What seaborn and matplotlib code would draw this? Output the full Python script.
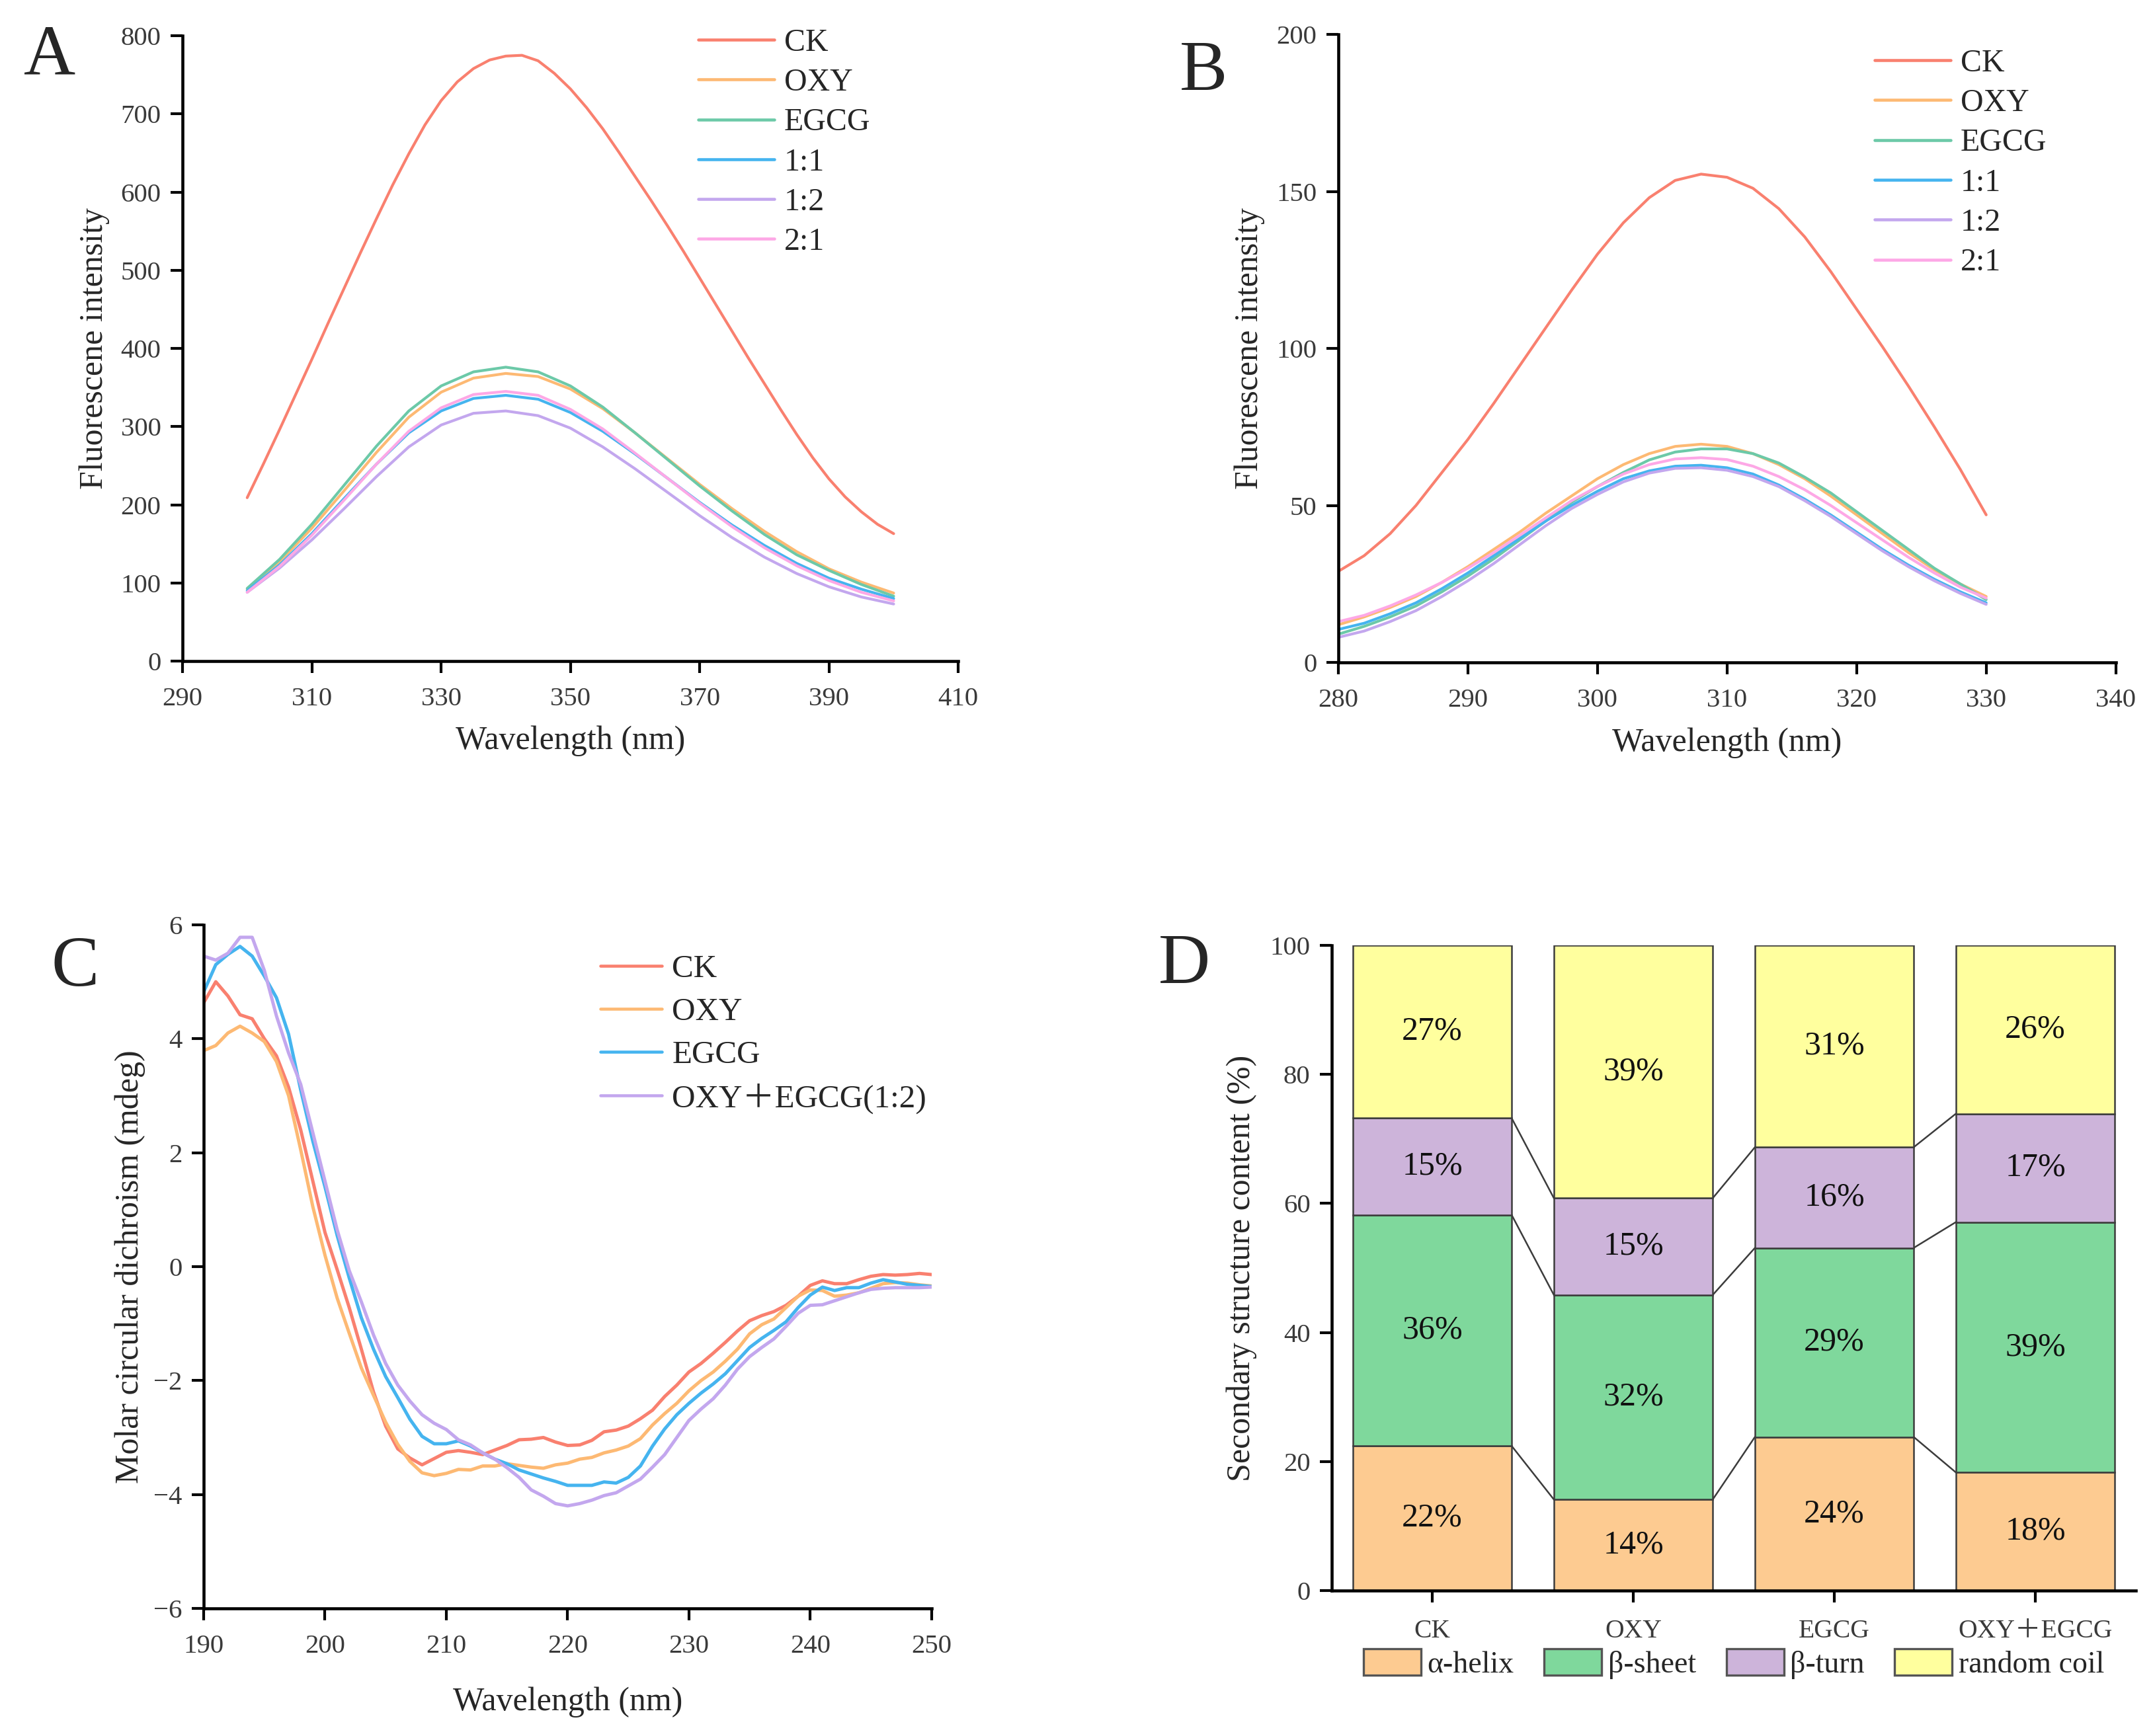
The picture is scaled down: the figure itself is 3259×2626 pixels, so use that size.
import numpy as np
import pandas as pd
import seaborn as sns
import matplotlib.pyplot as plt
from matplotlib.patches import Patch

sns.set_style('ticks')
plt.rcParams['font.family'] = ['Liberation Serif', 'Noto Sans CJK SC']

# ---- data: panel A (fluorescence, 300-400 nm) ----
wl_ck_a = [300, 302.5, 305, 307.5, 310, 312.5, 315, 317.5, 320, 322.5, 325,
           327.5, 330, 332.5, 335, 337.5, 340, 342.5, 345, 347.5, 350,
           352.5, 355, 357.5, 360, 362.5, 365, 367.5, 370, 372.5, 375,
           377.5, 380, 382.5, 385, 387.5, 390, 392.5, 395, 397.5, 400]
ck_a = [209, 252, 296, 341, 386, 432, 477, 522, 566, 609, 649,
        686, 717, 741, 758, 769, 774, 775, 768, 752, 732,
        708, 681, 651, 620, 589, 557, 524, 490, 456, 422,
        388, 355, 322, 290, 260, 233, 210, 191, 175, 163]
wl_a = [300, 305, 310, 315, 320, 325, 330, 335, 340, 345, 350,
        355, 360, 365, 370, 375, 380, 385, 390, 395, 400]
oxy_a = [92, 127, 170, 218, 267, 312, 344, 362, 368, 364, 348,
         323, 292, 259, 226, 195, 166, 140, 118, 101, 87]
egcg_a = [93, 130, 175, 225, 275, 320, 352, 370, 376, 370, 352,
          325, 292, 258, 224, 192, 162, 136, 116, 98, 83]
r11_a = [90, 123, 163, 208, 252, 292, 320, 336, 340, 335, 318,
         294, 265, 234, 203, 174, 148, 125, 106, 92, 80]
r12_a = [88, 119, 155, 195, 236, 274, 302, 317, 320, 314, 298,
         274, 246, 216, 186, 158, 133, 112, 95, 82, 73]
r21_a = [88, 121, 161, 206, 252, 294, 324, 341, 345, 340, 322,
         297, 266, 234, 202, 172, 145, 122, 103, 88, 77]

# ---- data: panel B (fluorescence, 280-330 nm) ----
wl_b = [280, 282, 284, 286, 288, 290, 292, 294, 296, 298, 300, 302, 304,
        306, 308, 310, 312, 314, 316, 318, 320, 322, 324, 326, 328, 330]
ck_b = [29, 34, 41, 50, 60.5, 71, 82.5, 94.5, 106.5, 118.5, 130, 140, 148,
        153.5, 155.5, 154.5, 151, 144.5, 135.5, 124.5, 112.5, 100.5, 88, 75, 61.5, 47]
oxy_b = [12, 14.5, 17.5, 21, 25.5, 30.5, 36, 41.5, 47.5, 53, 58.5, 63, 66.5,
         68.8, 69.5, 68.8, 66.5, 63, 58.5, 53, 47, 41, 35, 29.5, 25, 21]
egcg_b = [9, 11.5, 14.5, 18, 22.5, 27.5, 33, 39, 45, 51, 56, 60.5, 64.5,
          67, 68, 68, 66.5, 63.5, 59, 54, 48, 42, 36, 30, 25, 20]
r11_b = [10.5, 12.5, 15.5, 19, 23.5, 28.5, 34, 39.5, 45, 50, 54.5, 58.5, 61,
         62.5, 62.8, 62, 60, 56.5, 52, 47, 41.5, 36, 31, 26.5, 22.5, 19]
r12_b = [8, 10, 13, 16.5, 21, 26, 31.5, 37.5, 43.5, 49, 53.5, 57.5, 60.3,
         61.8, 62, 61.2, 59.2, 56, 51.5, 46.5, 41, 35.5, 30.5, 26, 22, 18.5]
r21_b = [13, 15, 18, 21.5, 25.5, 30, 35, 40.5, 46, 51.5, 56, 60, 63,
         64.8, 65.2, 64.6, 62.5, 59.2, 55, 50, 44.5, 39, 33.5, 28.5, 24, 20.5]

# ---- data: panel C (circular dichroism, 190-250 nm) ----
wl_c = list(range(190, 251))
ck_c = [4.63, 5.0, 4.75, 4.42, 4.35, 4.0, 3.7, 3.15, 2.4, 1.5,
        0.6, -0.05, -0.72, -1.45, -2.2, -2.8, -3.2, -3.36, -3.48, -3.37,
        -3.26, -3.23, -3.26, -3.30, -3.22, -3.14, -3.04, -3.03, -3.0, -3.08,
        -3.14, -3.13, -3.05, -2.9, -2.87, -2.8, -2.67, -2.52, -2.28, -2.08,
        -1.85, -1.7, -1.52, -1.33, -1.13, -0.95, -0.86, -0.79, -0.68, -0.52,
        -0.33, -0.25, -0.3, -0.3, -0.23, -0.17, -0.14, -0.15, -0.14, -0.12,
        -0.14]
oxy_c = [3.79, 3.88, 4.1, 4.22, 4.1, 3.95, 3.6, 3.0, 2.05, 1.05,
         0.2, -0.55, -1.17, -1.78, -2.26, -2.73, -3.12, -3.42, -3.62, -3.67,
         -3.63, -3.56, -3.57, -3.5, -3.5, -3.46, -3.49, -3.52, -3.54, -3.48,
         -3.45, -3.38, -3.35, -3.27, -3.22, -3.15, -3.02, -2.78, -2.58, -2.4,
         -2.18, -2.0, -1.85, -1.66, -1.45, -1.18, -1.02, -0.92, -0.72, -0.52,
         -0.41, -0.42, -0.52, -0.5, -0.46, -0.38, -0.3, -0.28, -0.29, -0.32,
         -0.34]
egcg_c = [4.82, 5.3, 5.48, 5.62, 5.45, 5.1, 4.72, 4.08, 3.1, 2.2,
          1.4, 0.55, -0.2, -0.9, -1.45, -1.93, -2.3, -2.68, -2.98, -3.11,
          -3.11, -3.06, -3.15, -3.27, -3.38, -3.46, -3.57, -3.64, -3.71, -3.77,
          -3.84, -3.84, -3.84, -3.78, -3.8, -3.7, -3.5, -3.15, -2.85, -2.6,
          -2.4, -2.22, -2.06, -1.88, -1.65, -1.42, -1.26, -1.12, -0.97, -0.72,
          -0.5, -0.36, -0.42, -0.37, -0.37, -0.29, -0.23, -0.27, -0.31, -0.33,
          -0.35]
mix_c = [5.45, 5.38, 5.5, 5.78, 5.78, 5.2, 4.4, 3.75, 3.2, 2.35,
         1.5, 0.65, -0.07, -0.62, -1.2, -1.7, -2.08, -2.36, -2.6, -2.75,
         -2.86, -3.04, -3.13, -3.27, -3.38, -3.53, -3.7, -3.92, -4.03, -4.16,
         -4.2, -4.16, -4.1, -4.02, -3.97, -3.85, -3.73, -3.52, -3.3, -3.0,
         -2.7, -2.5, -2.32, -2.08, -1.8, -1.58, -1.42, -1.27, -1.05, -0.82,
         -0.68, -0.67, -0.6, -0.53, -0.46, -0.4, -0.38, -0.37, -0.37, -0.37,
         -0.36]

# ---- data: panel D (secondary structure, %) ----
groups = ['CK', 'OXY', 'EGCG', 'OXY＋EGCG']
structures = ['α-helix', 'β-sheet', 'β-turn', 'random coil']
alpha_helix = [22.4, 14.1, 23.8, 18.3]
beta_sheet = [35.8, 31.7, 29.3, 38.8]
beta_turn = [15.0, 15.0, 15.6, 16.8]
random_coil = [26.8, 39.2, 31.3, 26.1]

# colours
c_ck, c_oxy, c_egcg = '#F9806F', '#FDB973', '#6CC9A8'
c_11, c_12, c_21 = '#45B4EF', '#C3A7EE', '#FDA8E6'
bar_colors = ['#FDCB91', '#7FD89C', '#CDB4DA', '#FFFF9E']

tick_color = '#3a3a3a'


def style_axes(ax):
    sns.despine(ax=ax)
    for s in ['left', 'bottom']:
        ax.spines[s].set_linewidth(1.1)
        ax.spines[s].set_color('black')
    ax.tick_params(direction='out', length=4.3, width=1.0, colors='black',
                   labelcolor=tick_color, labelsize=9.8)
    ax.tick_params(axis='x', pad=5)
    ax.tick_params(axis='y', pad=3.5)


def line_panel(ax, xs, series, names, colors, lw):
    df = pd.concat([pd.DataFrame({'wl': x, 'val': v, 'sample': n})
                    for x, v, n in zip(xs, series, names)], ignore_index=True)
    sns.lineplot(data=df, x='wl', y='val', hue='sample', hue_order=names,
                 palette=dict(zip(names, colors)), linewidth=lw,
                 legend=False, ax=ax)
    handles = [plt.Line2D([], [], color=c, lw=1.1) for c in colors]
    return handles


fig = plt.figure(figsize=(3259 / 300, 2626 / 300), dpi=300)
lab_fs = 12

# Panel A
axA = fig.add_axes([0.0847, 0.6192, 0.36, 0.3602])
names6 = ['CK', 'OXY', 'EGCG', '1:1', '1:2', '2:1']
h = line_panel(axA, [wl_ck_a] + [wl_a] * 5,
               [ck_a, oxy_a, egcg_a, r11_a, r12_a, r21_a], names6,
               [c_ck, c_oxy, c_egcg, c_11, c_12, c_21], 1.0)
axA.set_xlim(290, 410)
axA.set_ylim(0, 800)
axA.set_xticks(range(290, 411, 20))
axA.set_yticks(range(0, 801, 100))
style_axes(axA)
axA.set_xlabel('Wavelength (nm)', fontsize=lab_fs)
axA.set_ylabel('Fluorescene intensity', fontsize=lab_fs)
axA.xaxis.set_label_coords(0.5, -0.103)
axA.yaxis.set_label_coords(-0.094, 0.5)
axA.legend(h, names6, loc='upper left', bbox_to_anchor=(0.665, 1.012),
           frameon=False, fontsize=11.5, handlelength=2.4, handletextpad=0.3,
           labelspacing=0.34, borderaxespad=0, borderpad=0)

# Panel B
axB = fig.add_axes([0.621, 0.6184, 0.3608, 0.3618])
h = line_panel(axB, [wl_b] * 6, [ck_b, oxy_b, egcg_b, r11_b, r12_b, r21_b],
               names6, [c_ck, c_oxy, c_egcg, c_11, c_12, c_21], 1.0)
axB.set_xlim(280, 340)
axB.set_ylim(0, 200)
axB.set_xticks(range(280, 341, 10))
axB.set_yticks(range(0, 201, 50))
style_axes(axB)
axB.set_xlabel('Wavelength (nm)', fontsize=lab_fs)
axB.set_ylabel('Fluorescene intensity', fontsize=lab_fs)
axB.xaxis.set_label_coords(0.5, -0.104)
axB.yaxis.set_label_coords(-0.094, 0.5)
axB.legend(h, names6, loc='upper left', bbox_to_anchor=(0.69, 0.977),
           frameon=False, fontsize=11.5, handlelength=2.4, handletextpad=0.3,
           labelspacing=0.34, borderaxespad=0, borderpad=0)

# Panel C
axC = fig.add_axes([0.0945, 0.0735, 0.3378, 0.3938])
names4 = ['CK', 'OXY', 'EGCG', 'OXY＋EGCG(1:2)']
h = line_panel(axC, [wl_c] * 4, [ck_c, oxy_c, egcg_c, mix_c], names4,
               [c_ck, c_oxy, c_11, c_12], 1.2)
axC.set_xlim(190, 250)
axC.set_ylim(-6, 6)
axC.set_xticks(range(190, 251, 10))
axC.set_yticks(range(-6, 7, 2))
style_axes(axC)
axC.set_xlabel('Wavelength (nm)', fontsize=lab_fs)
axC.set_ylabel('Molar circular dichroism (mdeg)', fontsize=lab_fs)
axC.xaxis.set_label_coords(0.5, -0.115)
axC.yaxis.set_label_coords(-0.080, 0.5)
axC.legend(h, names4, loc='upper left', bbox_to_anchor=(0.545, 0.957),
           frameon=False, fontsize=11.8, handlelength=1.9, handletextpad=0.3,
           labelspacing=0.42, borderaxespad=0, borderpad=0)

# Panel D
axD = fig.add_axes([0.618, 0.0838, 0.3731, 0.3717])
layers = [alpha_helix, beta_sheet, beta_turn, random_coil]
width = 0.79
xpos = np.arange(len(groups))
bottom = np.zeros(len(groups))
levels = []
for vals, col in zip(layers, bar_colors):
    vals = np.array(vals)
    axD.bar(xpos, vals, width=width, bottom=bottom, color=col,
            edgecolor='#3c3c3c', linewidth=0.6, zorder=2)
    for i, v in enumerate(vals):
        axD.text(xpos[i], bottom[i] + v / 2, f'{v:.0f}%', ha='center',
                 va='center', fontsize=12, color='#111111', zorder=3)
    bottom = bottom + vals
    levels.append(bottom.copy())
for lev in levels[:-1]:
    for i in range(len(groups) - 1):
        axD.plot([xpos[i] + width / 2, xpos[i + 1] - width / 2],
                 [lev[i], lev[i + 1]], color='#3c3c3c', lw=0.6, zorder=1)
axD.set_xlim(-0.5, 3.5)
axD.set_ylim(0, 100)
axD.set_yticks(range(0, 101, 20))
axD.set_xticks(xpos)
axD.set_xticklabels(groups)
style_axes(axD)
axD.tick_params(axis='x', labelsize=9.5, pad=6)
axD.set_ylabel('Secondary structure content (%)', fontsize=lab_fs)
axD.yaxis.set_label_coords(-0.093, 0.5)
patches = [Patch(facecolor=c, edgecolor='#555555', linewidth=0.8)
           for c in bar_colors]
axD.legend(patches, structures, loc='center', bbox_to_anchor=(0.5, -0.114),
           ncol=4, frameon=False, fontsize=11, handlelength=1.9,
           handleheight=0.95, handletextpad=0.2, columnspacing=1.0,
           borderaxespad=0, borderpad=0)

# panel letters
for letter, (px, py) in {'A': (75, 87), 'B': (1820, 110),
                         'C': (114, 1465), 'D': (1791, 1461)}.items():
    fig.text(px / 3259, 1 - py / 2626, letter, ha='center', va='center',
             fontsize=26)

fig.savefig('out.png', dpi=300)
